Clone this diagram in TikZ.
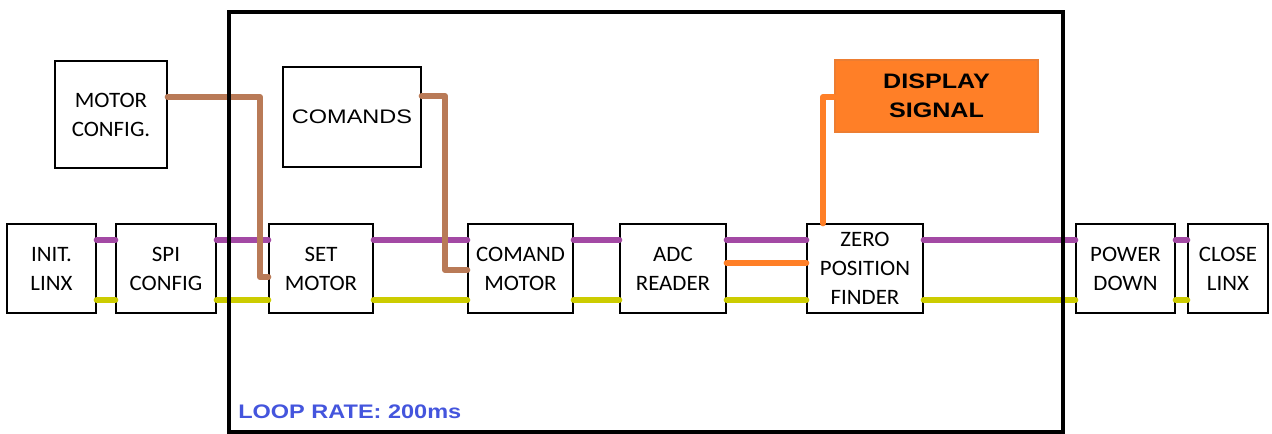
\documentclass[tikz,border=0pt]{standalone}
\usepackage{fontspec}
\setmainfont{Carlito}[FakeStretch=1.04]
\newfontfamily\arialf{Liberation Sans}[FakeStretch=1.2]
\usepackage{xcolor}
\usetikzlibrary{positioning}

\definecolor{wirepurple}{HTML}{A349A4}
\definecolor{wireyellow}{HTML}{CCCC00}
\definecolor{wirebrown}{HTML}{B97A57}
\definecolor{wireorange}{HTML}{FF7F27}
\definecolor{dispborder}{HTML}{ED7D31}
\definecolor{loopblue}{HTML}{4455DD}

\begin{document}
\begin{tikzpicture}[
    x=0.75pt, y=-0.75pt,
    blk/.style={
        draw,
        line width=1pt,
        minimum height=66.75pt,
        align=center,
        inner sep=0pt,
        font=\fontsize{16.5}{21.75}\selectfont
    },
    wire/.style={line width=4.5pt, line cap=round},
    purp/.style={wire, wirepurple},
    yell/.style={wire, wireyellow},
    brwn/.style={wire, wirebrown, line join=round},
    orng/.style={wire, wireorange, line join=round}
]
\useasboundingbox (0,0) rectangle (1272,434);

% main row
\node[blk, minimum width=66.75pt] (init)   at (51.5,268.5)  {INIT.\\LINX};
\node[blk, minimum width=75pt]    (spi)    at (166,268.5)   {SPI\\CONFIG};
\node[blk, minimum width=78pt]    (setm)   at (321,268.5)   {SET\\MOTOR};
\node[blk, minimum width=78.75pt] (cmdm)   at (520.5,268.5) {COMAND\\MOTOR};
\node[blk, minimum width=79.5pt]  (adc)    at (673,268.5)   {ADC\\READER};
\node[blk, minimum width=87pt]    (zero)   at (865,268.5)   {ZERO\\POSITION\\FINDER};
\node[blk, minimum width=74.25pt] (pwr)    at (1125.5,268.5){POWER\\DOWN};
\node[blk, minimum width=60pt]    (close)  at (1228,268.5)  {CLOSE\\LINX};

% upper boxes
\node[blk, minimum width=84pt, minimum height=80.25pt] (mcfg) at (111,114.5) {MOTOR\\CONFIG.};
\node[blk, minimum width=103.5pt, minimum height=75pt,
      font=\arialf\fontsize{14.7}{18}\selectfont] (cmds) at (352,117) {COMANDS};
\node[blk, draw=dispborder, line width=1.5pt, fill=wireorange,
      minimum width=152.25pt, minimum height=54pt,
      font=\arialf\bfseries\fontsize{15.7}{21.75}\selectfont] (disp) at (936.5,96) {DISPLAY\\SIGNAL};

\coordinate (top) at (0,240);
\coordinate (bot) at (0,300);
\coordinate (mid) at (0,263);

% purple and yellow buses
\foreach \a/\b in {init/spi, spi/setm, setm/cmdm, cmdm/adc, adc/zero, zero/pwr, pwr/close} {
    \draw[purp] (\a.east |- top) -- (\b.west |- top);
    \draw[yell] (\a.east |- bot) -- (\b.west |- bot);
}
\draw[orng] (adc.east |- mid) -- (zero.west |- mid);

% config and command wires
\coordinate (bend1) at (260,277);
\coordinate (bend2) at (445,270);
\draw[brwn] (mcfg.east |- 0,97) -| (bend1) -- (setm.west |- bend1);
\draw[brwn] (cmds.east |- 0,96) -| (bend2) -- (cmdm.west |- bend2);
\draw[orng] (zero.north -| 823,0) |- (disp.west |- 0,97);

% loop frame
\draw[line width=3pt] (229,12) rectangle (1063,432);
\node[anchor=base west, inner sep=0pt, text=loopblue,
      font=\arialf\bfseries\fontsize{14.7}{18}\selectfont] (rate) at (238,419) {LOOP RATE: 200ms};
\end{tikzpicture}
\end{document}
